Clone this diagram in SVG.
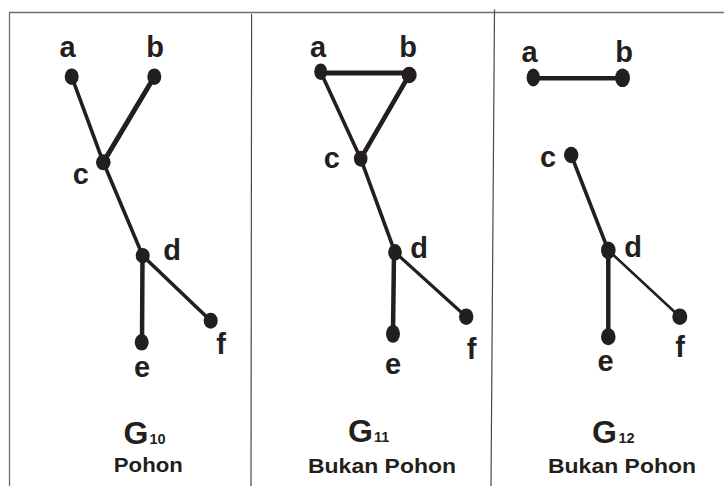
<svg xmlns="http://www.w3.org/2000/svg" width="724" height="486" viewBox="0 0 724 486">
<style>
.frame{stroke:#6e6e6e;stroke-width:1.3;fill:none}
.div{stroke:#4a4a4a;stroke-width:1.2;fill:none}
.node{fill:#231f20}
.e{stroke:#231f20;stroke-linecap:round;fill:none}
.lbl{font-family:"Liberation Sans",Arial,sans-serif;font-weight:bold;font-size:29px;fill:#231f20;text-anchor:middle}
.g{font-family:"Liberation Sans",Arial,sans-serif;font-weight:bold;font-size:32px;fill:#231f20}
.sub{font-family:"Liberation Sans",Arial,sans-serif;font-weight:bold;font-size:14.5px;fill:#231f20}
.cap{font-family:"Liberation Sans",Arial,sans-serif;font-weight:bold;font-size:20.5px;fill:#231f20;text-anchor:middle}
</style>
<rect width="724" height="486" fill="#ffffff"/>
<g id="frame">
<polyline class="frame" points="9.5,486 9.5,12.5 724,12.5"/>
<line class="div" x1="251.6" y1="14" x2="251" y2="486"/>
<line class="div" x1="494.5" y1="9.5" x2="491" y2="486"/>
</g>
<g id="connectors">
<!-- G10 -->
<line class="e" x1="71.7" y1="76.7" x2="103.3" y2="162.3" stroke-width="3.6"/>
<line class="e" x1="154.3" y1="76.7" x2="103.3" y2="162.3" stroke-width="5"/>
<line class="e" x1="103.3" y1="162.3" x2="142.7" y2="255.7" stroke-width="3.6"/>
<line class="e" x1="142.5" y1="255.7" x2="142" y2="342.3" stroke-width="4.5"/>
<line class="e" x1="142.7" y1="255.7" x2="210.7" y2="320.7" stroke-width="3.6"/>
<!-- G11 -->
<line class="e" x1="320.7" y1="73" x2="409.2" y2="73" stroke-width="5"/>
<line class="e" x1="320.7" y1="72" x2="360.7" y2="158.7" stroke-width="3.6"/>
<line class="e" x1="409.2" y1="75" x2="360.7" y2="158.7" stroke-width="4.6"/>
<line class="e" x1="360.7" y1="158.7" x2="395" y2="252.3" stroke-width="3.6"/>
<line class="e" x1="394" y1="252.3" x2="393" y2="333.8" stroke-width="4.5"/>
<line class="e" x1="395" y1="252.3" x2="466.2" y2="316.7" stroke-width="3.2"/>
<!-- G12 -->
<line class="e" x1="533.3" y1="78.3" x2="622.5" y2="78.3" stroke-width="4.6"/>
<line class="e" x1="571.2" y1="155" x2="608.3" y2="250.3" stroke-width="3.6"/>
<line class="e" x1="608.3" y1="250.3" x2="608.3" y2="336.7" stroke-width="4.5"/>
<line class="e" x1="608.3" y1="250.3" x2="679.8" y2="316.7" stroke-width="2.6"/>
</g>
<g id="G10">
<g id="G10-a"><ellipse class="node" cx="71.7" cy="76.7" rx="7" ry="8.3"/><text class="lbl" x="67.5" y="57">a</text></g>
<g id="G10-b"><ellipse class="node" cx="154.3" cy="76.7" rx="7" ry="8.3"/><text class="lbl" x="155" y="57">b</text></g>
<g id="G10-c"><ellipse class="node" cx="103.3" cy="162.3" rx="7.3" ry="8"/><text class="lbl" x="80.7" y="183.5">c</text></g>
<g id="G10-d"><ellipse class="node" cx="142.7" cy="255.7" rx="7" ry="7.6"/><text class="lbl" x="172" y="259.5">d</text></g>
<g id="G10-e"><ellipse class="node" cx="141.7" cy="342.3" rx="7" ry="8.3"/><text class="lbl" x="142" y="376.5">e</text></g>
<g id="G10-f"><ellipse class="node" cx="210.7" cy="320.7" rx="7" ry="8"/><text class="lbl" x="221" y="353.5">f</text></g>
<g id="G10-title"><text class="g" x="123.5" y="443.5">G</text><text class="sub" x="149.5" y="443.5">10</text><text class="cap" x="148.3" y="472" textLength="69" lengthAdjust="spacingAndGlyphs">Pohon</text></g>
</g>
<g id="G11">
<g id="G11-a"><ellipse class="node" cx="320.7" cy="71.7" rx="6.5" ry="8.3"/><text class="lbl" x="318" y="56.5">a</text></g>
<g id="G11-b"><ellipse class="node" cx="409.2" cy="75" rx="7.5" ry="8.3"/><text class="lbl" x="408" y="57">b</text></g>
<g id="G11-c"><ellipse class="node" cx="360.7" cy="158.7" rx="6.8" ry="8"/><text class="lbl" x="331.7" y="167.5">c</text></g>
<g id="G11-d"><ellipse class="node" cx="395" cy="252.3" rx="6.8" ry="8.3"/><text class="lbl" x="419" y="257.5">d</text></g>
<g id="G11-e"><ellipse class="node" cx="393" cy="333.8" rx="7" ry="9"/><text class="lbl" x="393" y="373.5">e</text></g>
<g id="G11-f"><ellipse class="node" cx="466.2" cy="316.7" rx="7.2" ry="8.3"/><text class="lbl" x="471.5" y="358.5">f</text></g>
<g id="G11-title"><text class="g" x="348" y="442">G</text><text class="sub" x="374" y="442">11</text><text class="cap" x="382" y="472.5" textLength="148" lengthAdjust="spacingAndGlyphs">Bukan Pohon</text></g>
</g>
<g id="G12">
<g id="G12-a"><ellipse class="node" cx="533.3" cy="77.5" rx="6.7" ry="9"/><text class="lbl" x="529.5" y="62">a</text></g>
<g id="G12-b"><ellipse class="node" cx="622.5" cy="77.8" rx="7.5" ry="9.3"/><text class="lbl" x="624" y="62">b</text></g>
<g id="G12-c"><ellipse class="node" cx="571.2" cy="155" rx="7.2" ry="8.3"/><text class="lbl" x="548" y="167">c</text></g>
<g id="G12-d"><ellipse class="node" cx="608.3" cy="250.3" rx="7.3" ry="8.8"/><text class="lbl" x="633" y="257">d</text></g>
<g id="G12-e"><ellipse class="node" cx="608.3" cy="336.7" rx="7.3" ry="8.5"/><text class="lbl" x="605.5" y="370.5">e</text></g>
<g id="G12-f"><ellipse class="node" cx="679.8" cy="316.7" rx="7.5" ry="8.3"/><text class="lbl" x="680" y="356.5">f</text></g>
<g id="G12-title"><text class="g" x="592" y="442.5">G</text><text class="sub" x="618.5" y="442.5">12</text><text class="cap" x="622" y="472.5" textLength="148" lengthAdjust="spacingAndGlyphs">Bukan Pohon</text></g>
</g>
</svg>
